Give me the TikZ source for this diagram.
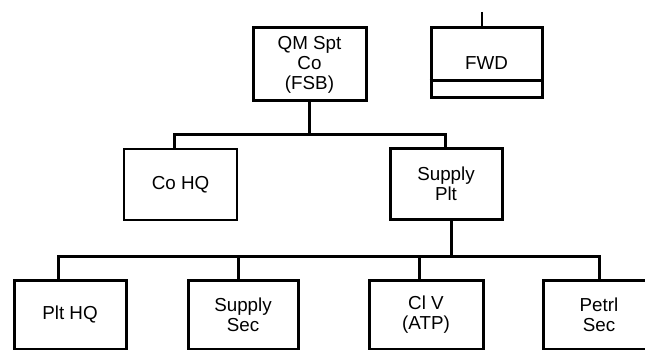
\documentclass[tikz,border=0pt]{standalone}
\usepackage{fontspec}
\setmainfont{Liberation Sans}
\begin{document}
\begin{tikzpicture}[x=1pt,y=-1pt,
  box/.style={draw=black,line width=3pt,rectangle,inner sep=0pt,align=center,
    font=\fontsize{18.8}{20}\selectfont,text=black},
  thinbox/.style={box,line width=1.6pt},
  conn/.style={draw=black,line width=3pt,line join=miter},
  tickline/.style={draw=black,line width=1.6pt}]
\clip (0,0) rectangle (645,350);
\fill[white] (0,0) rectangle (645,350);
% nodes
\node[box,minimum width=113pt,minimum height=73pt] (qm) at (309.5,64.5) {QM Spt\\Co\\(FSB)};
\node[box,minimum width=111pt,minimum height=70pt] (fwd) at (486.5,63) {FWD};
\node[thinbox,minimum width=113pt,minimum height=71pt] (cohq) at (180.5,184.5) {Co HQ};
\node[box,minimum width=112pt,minimum height=70pt] (sp) at (446,184) {Supply\\Plt};
\node[box,minimum width=112pt,minimum height=69pt] (plthq) at (70,314.5) {Plt HQ};
\node[box,minimum width=110pt,minimum height=69pt] (ssec) at (243,314.5) {Supply\\Sec};
\node[box,minimum width=114pt,minimum height=69pt] (clv) at (426,314.5) {Cl V\\(ATP)};
\node[box,minimum width=112pt,minimum height=69pt] (petrl) at (599,314.5) {Petrl\\Sec};
% FWD details
\coordinate (fwdline) at (0,81);
\draw[conn] (fwd.west |- fwdline) -- (fwd.east |- fwdline);
\coordinate (tick) at (482,12);
\draw[tickline] (tick) -- (tick |- fwd.north);
% upper bus
\coordinate (b1L) at (174,135);
\coordinate (b1R) at (445,135);
\draw[conn] (qm.south) -- (qm.south |- b1L);
\draw[conn] (b1L |- cohq.north) -- (b1L) -- (b1R) -- (b1R |- sp.north);
% lower bus
\coordinate (b2s) at (451.7,256.5);
\coordinate (b2a) at (58.7,256.5);
\coordinate (b2b) at (238.3,256.5);
\coordinate (b2c) at (419.3,256.5);
\coordinate (b2d) at (599.3,256.5);
\draw[conn] (sp.south -| b2s) -- (b2s);
\draw[conn] (b2a |- plthq.north) -- (b2a) -- (b2d) -- (b2d |- petrl.north);
\draw[conn] (b2b) -- (b2b |- ssec.north);
\draw[conn] (b2c) -- (b2c |- clv.north);
\end{tikzpicture}
\end{document}
